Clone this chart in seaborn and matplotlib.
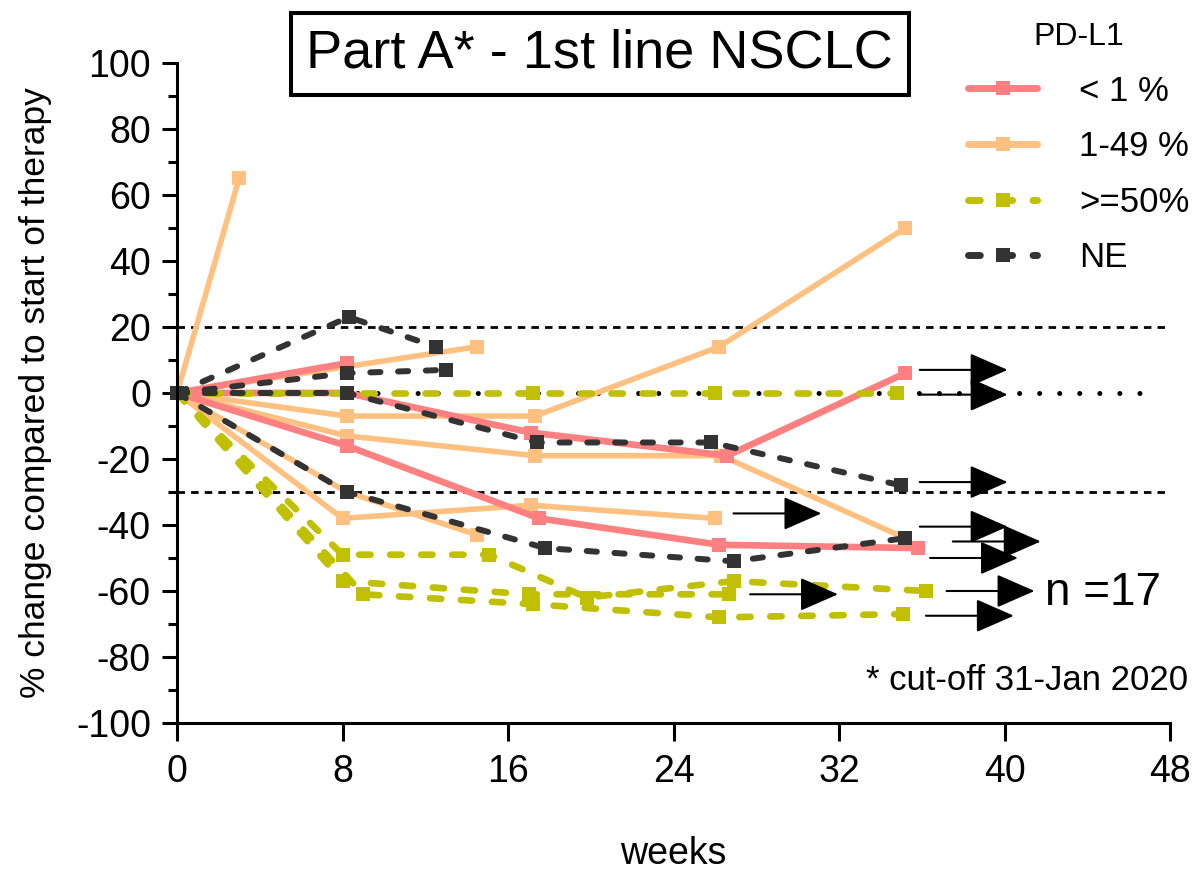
import pandas as pd
import numpy as np
import matplotlib
matplotlib.use('Agg')
import matplotlib.pyplot as plt
import seaborn as sns
from matplotlib.lines import Line2D
from matplotlib.ticker import MultipleLocator

# data: one list per patient (weeks, % change), grouped by PD-L1
weeks_lt1 = [[0, 8.2, 17.1, 26.6, 35.2], [0, 8.2, 17.5, 26.2, 35.8], [0, 8.2]]
change_lt1 = [[0, 0, -12, -19, 6], [0, -16, -38, -46, -47], [0, 9]]

weeks_1_49 = [[0, 3], [0, 8.2, 14.5], [0, 8.2, 17.3, 26.2, 35.2],
              [0, 8.2, 17.3, 26.3, 35.2], [0, 8.0, 17.1, 26.0], [0, 8.2, 14.5]]
change_1_49 = [[0, 65], [0, 8, 14], [0, -7, -7, 14, 50],
               [0, -13, -19, -19, -44], [0, -38, -34, -38], [0, -30, -43]]

weeks_ge50 = [[0, 8.2, 17.2, 26.0, 34.8], [0, 8.0, 15.1, 19.8, 26.9, 36.2],
              [0, 8.0, 17.0, 26.7], [0, 9.0, 17.2, 26.2, 35.1]]
change_ge50 = [[0, 0, 0, 0, 0], [0, -49, -49, -62, -57, -60],
               [0, -57, -61, -61], [0, -61, -64, -68, -67]]

weeks_ne = [[0, 8.3, 12.5], [0, 8.2, 13], [0, 8.2, 17.8, 26.9, 35.2], [0, 8.2, 17.4, 25.8, 35.0]]
change_ne = [[0, 23, 14], [0, 6, 7], [0, -30, -47, -51, -44], [0, 0, -15, -15, -28]]

groups = ['< 1 %', '1-49 %', '>=50%', 'NE']
colors = {'< 1 %': '#FF8080', '1-49 %': '#FFC080', '>=50%': '#C0C000', 'NE': '#333333'}
widths = {'< 1 %': 4.8, '1-49 %': 4.0, '>=50%': 4.8, 'NE': 4.3}

# ongoing patients (arrows)
arrow_y = [7, -0.5, -27, -36.5, -40.5, -45, -50, -60, -61, -67.5]
arrow_start = [35.9, 35.9, 35.9, 26.9, 35.9, 37.5, 36.4, 37.2, 27.7, 36.2]
arrow_len = 4.25

rows = []
pid = 0
for g, wl, cl in zip(groups, [weeks_lt1, weeks_1_49, weeks_ge50, weeks_ne],
                     [change_lt1, change_1_49, change_ge50, change_ne]):
    for w, c in zip(wl, cl):
        pid += 1
        for wi, ci in zip(w, c):
            rows.append({'week': wi, 'change': ci, 'patient': pid, 'group': g})
df = pd.DataFrame(rows)

sns.set_style('ticks')
plt.rcParams['font.family'] = ['Liberation Sans', 'DejaVu Sans']
plt.rcParams['axes.unicode_minus'] = False
plt.rcParams['text.color'] = 'black'
plt.rcParams['axes.labelcolor'] = 'black'
plt.rcParams['xtick.color'] = 'black'
plt.rcParams['ytick.color'] = 'black'

fig = plt.figure(figsize=(12.02, 8.83), dpi=100)
ax = fig.add_axes([0.1473, 0.1812, 0.8261, 0.7475])

# reference lines
ax.axhline(20, color='black', lw=2, dashes=(2.7, 2.2), zorder=1)
ax.axhline(-30, color='black', lw=2, dashes=(2.7, 2.2), zorder=1)
ax.axhline(0, xmax=47.3 / 48, color='black', lw=3.6, dashes=(0.01, 4), dash_capstyle='round', zorder=1)
n_ref = len(ax.lines)

dash_style = (1.7, 2.95)
sns.lineplot(data=df, x='week', y='change', hue='group', style='group', units='patient',
             estimator=None, hue_order=['1-49 %', '< 1 %', '>=50%', 'NE'],
             palette=colors,
             dashes={'< 1 %': '', '1-49 %': '', '>=50%': dash_style, 'NE': dash_style},
             markers={'< 1 %': 's', '1-49 %': 's', '>=50%': 's', 'NE': 's'},
             markersize=10, markeredgewidth=0, dash_capstyle='round',
             legend=False, ax=ax)

for ln in ax.lines[n_ref:]:
    ln.set_clip_on(False)
    for g in groups:
        if matplotlib.colors.same_color(ln.get_color(), colors[g]):
            ln.set_linewidth(widths[g])

for x0, y0 in zip(arrow_start, arrow_y):
    ax.annotate('', xy=(x0 + arrow_len, y0), xytext=(x0, y0),
                arrowprops=dict(arrowstyle='-|>,head_length=0.8,head_width=0.35',
                                mutation_scale=30, color='black', lw=1.5,
                                shrinkA=0, shrinkB=0),
                annotation_clip=False)

ax.set_xlim(0, 48)
ax.set_ylim(-100, 100)
ax.set_xticks(np.arange(0, 49, 8))
ax.set_yticks(np.arange(-100, 101, 20))
ax.yaxis.set_minor_locator(MultipleLocator(10))
for s in ['top', 'right']:
    ax.spines[s].set_visible(False)
for s in ['left', 'bottom']:
    ax.spines[s].set_linewidth(2.2)
    ax.spines[s].set_color('black')
ax.tick_params(axis='y', which='major', length=10.8, width=2.2, labelsize=27, pad=8, color='black')
ax.tick_params(axis='y', which='minor', length=6.5, width=2.2, color='black')
ax.tick_params(axis='x', which='major', length=13, width=2.2, labelsize=27, pad=9, color='black')

ax.set_xlabel('weeks', fontsize=27)
ax.set_ylabel('% change compared to start of therapy', fontsize=25.5)
ax.xaxis.set_label_coords(0.5, -0.171)
ax.yaxis.set_label_coords(-0.126, 0.5)

fig.text(0.499, 1 - 54 / 883, 'Part A* - 1st line NSCLC', fontsize=39, ha='center', va='center',
         bbox=dict(boxstyle='square,pad=0.29', facecolor='white', edgecolor='black', lw=2.9))

ax.text(0.874, 0.197, 'n =17', transform=ax.transAxes, fontsize=33, ha='left', va='center')
ax.text(1.018, 0.065, '* cut-off 31-Jan 2020', transform=ax.transAxes, fontsize=25,
        ha='right', va='center')

handles = []
for g in groups:
    ls = '-' if g in ['< 1 %', '1-49 %'] else (0, dash_style)
    handles.append(Line2D([0], [0], color=colors[g], lw=5, linestyle=ls, marker='s',
                          markersize=9.5, markeredgewidth=0, dash_capstyle='round'))
leg = ax.legend(handles, groups, title='PD-L1', loc='upper left',
                bbox_to_anchor=(968 / 1202, 1 - 22 / 883), bbox_transform=fig.transFigure,
                frameon=False, fontsize=25, title_fontsize=23, handlelength=2.0,
                handletextpad=1.2, labelspacing=0.65, borderpad=0, borderaxespad=0)

fig.savefig('out.png', dpi=100)
